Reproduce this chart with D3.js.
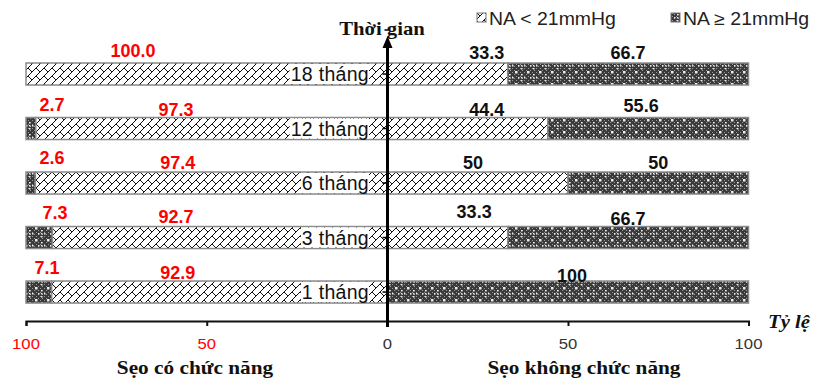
<!DOCTYPE html>
<html><head><meta charset="utf-8">
<script src="https://cdn.jsdelivr.net/npm/d3@7"></script>
<style>body{margin:0;background:#fff}svg{display:block}</style>
</head><body>
<svg id="c" width="814" height="380"></svg>
<script>
const categories = ["18 tháng","12 tháng","6 tháng","3 tháng","1 tháng"];
const leftLow  = [100.0, 97.3, 97.4, 92.7, 92.9];   // Sẹo có chức năng, NA < 21mmHg
const leftHigh = [0, 2.7, 2.6, 7.3, 7.1];           // Sẹo có chức năng, NA ≥ 21mmHg
const rightLow  = [33.3, 44.4, 50, 33.3, 0];        // Sẹo không chức năng, NA < 21mmHg
const rightHigh = [66.7, 55.6, 50, 66.7, 100];      // Sẹo không chức năng, NA ≥ 21mmHg
const leftLowLbl  = ["100.0","97.3","97.4","92.7","92.9"];
const leftHighLbl = ["","2.7","2.6","7.3","7.1"];
const rightLowLbl  = ["33.3","44.4","50","33.3",""];
const rightHighLbl = ["66.7","55.6","50","66.7","100"];
const tickValues = [0, 50, 100];
const legendLabels = ["NA < 21mmHg", "NA ≥ 21mmHg"];

const svg = d3.select("#c");
const cx = 387.5;
const xL = d3.scaleLinear().domain([0,100]).range([cx, 26]);
const xR = d3.scaleLinear().domain([0,100]).range([cx, 748.5]);
const y = d3.scaleBand().domain(categories).range([35.75, 330.3]).paddingInner(0.596).paddingOuter(0.5);

// manual label placement (layout tweaks, as in the original Excel chart)
const placeL = [{hx:null,hy:0,lx:70.4,ly:-6.5},{hx:92.8,hy:-6.5,lx:58.5,ly:-1.5},{hx:92.8,hy:-8,lx:58,ly:-3},
                {hx:92,hy:-7.5,lx:58.5,ly:-3.5},{hx:94.2,hy:-7.5,lx:58,ly:-2.5}];
const placeR = [{lx:27.5,ly:-4.5,dx:0,hy:-4.5},{lx:27.5,ly:-1.5,dx:-7,hy:-5.5},{lx:23.7,ly:-2.7,dx:0,hy:-2.7},
                {lx:24,ly:-9,dx:0,hy:-2},{lx:0,ly:0,dx:4,hy:1}];

// patterns
const defs = svg.append("defs");
const ph = defs.append("pattern").attr("id","hatch").attr("patternUnits","userSpaceOnUse")
  .attr("width",8).attr("height",8);
ph.append("rect").attr("width",8).attr("height",8).attr("fill","#fff");
ph.append("path").attr("d","M-1,9 L9,-1 M-1,1 L1,-1 M7,9 L9,7 M4,4 L8,8")
  .attr("stroke","#111").attr("stroke-width",1).attr("fill","none");
const pd = defs.append("pattern").attr("id","dark").attr("patternUnits","userSpaceOnUse")
  .attr("width",12).attr("height",12);
pd.append("rect").attr("width",12).attr("height",12).attr("fill","#3a3a3a");
for (let i=0;i<12;i+=2) for (let j=0;j<12;j+=2) if (((i+j)/2)%2===0)
  pd.append("rect").attr("x",i).attr("y",j).attr("width",1).attr("height",1).attr("fill","#9a9a9a");
[[5,2],[5,8],[2,5],[8,5],[5,5],[11,11],[11,0],[0,11],[0,0]].forEach(([a,b])=>
  pd.append("rect").attr("x",a).attr("y",b).attr("width",1.5).attr("height",1.5).attr("fill","#eee"));

const bh = y.bandwidth();
const rows = categories.map((c,i)=>({c,i}));
const g = svg.append("g");

// left bars
g.selectAll(".lh").data(rows.filter(d=>leftHigh[d.i]>0)).join("rect")
  .attr("x", d=>xL(100)).attr("y", d=>y(d.c))
  .attr("width", d=>xL(100-leftHigh[d.i]) - xL(100)).attr("height", bh)
  .attr("fill","url(#dark)").attr("stroke","#8a8a8a").attr("stroke-width",1.5);
g.selectAll(".ll").data(rows).join("rect")
  .attr("x", d=>xL(leftLow[d.i])).attr("y", d=>y(d.c))
  .attr("width", d=>xL(0) - xL(leftLow[d.i])).attr("height", bh)
  .attr("fill","url(#hatch)").attr("stroke","#8a8a8a").attr("stroke-width",1.5);
// right bars
g.selectAll(".rl").data(rows.filter(d=>rightLow[d.i]>0)).join("rect")
  .attr("x", xR(0)).attr("y", d=>y(d.c))
  .attr("width", d=>xR(rightLow[d.i]) - xR(0)).attr("height", bh)
  .attr("fill","url(#hatch)").attr("stroke","#8a8a8a").attr("stroke-width",1.5);
g.selectAll(".rh").data(rows).join("rect")
  .attr("x", d=>xR(rightLow[d.i])).attr("y", d=>y(d.c))
  .attr("width", d=>xR(100) - xR(rightLow[d.i])).attr("height", bh)
  .attr("fill","url(#dark)").attr("stroke","#8a8a8a").attr("stroke-width",1.5);

// category labels with white box
const cl = g.selectAll(".cl").data(rows).join("g");
cl.append("text")
  .attr("x", 369).attr("y", d=>y(d.c)+bh/2+7)
  .attr("text-anchor","end").attr("font-family","Liberation Sans, Arial")
  .attr("font-size",19.5).attr("letter-spacing",0.3).attr("fill","#111").text(d=>d.c)
  .each(function(d){
    const bb = this.getBBox();
    d3.select(this.parentNode).insert("rect","text")
      .attr("x", bb.x-1).attr("y", y(d.c)+1).attr("width", bb.width+1).attr("height", bh-2)
      .attr("fill","#fff");
  });

// data labels
const lblFont = "Liberation Sans, Arial";
function lbl(x, yy, t, col){
  svg.append("text").attr("x",x).attr("y",yy).attr("text-anchor","middle")
    .attr("font-family",lblFont).attr("font-weight","bold").attr("font-size",18)
    .attr("fill",col).text(t);
}
rows.forEach(d=>{
  const top = y(d.c), pl = placeL[d.i], pr = placeR[d.i];
  if (leftHighLbl[d.i]) lbl(xL(pl.hx), top+pl.hy, leftHighLbl[d.i], "#ff0000");
  lbl(xL(pl.lx), top+pl.ly, leftLowLbl[d.i], "#ff0000");
  if (rightLowLbl[d.i]) lbl(xR(pr.lx), top+pr.ly, rightLowLbl[d.i], "#111");
  const mid = (xR(rightLow[d.i]) + xR(100))/2;
  lbl(mid+pr.dx, top+pr.hy, rightHighLbl[d.i], "#111");
});

// horizontal axis
const axY = 321;
const axL = d3.axisBottom(xL).tickValues(tickValues).tickSize(5).tickFormat("");
const axR = d3.axisBottom(xR).tickValues(tickValues).tickSize(5).tickFormat("");
const gl = svg.append("g").attr("transform",`translate(0,${axY})`).call(axL);
const gr = svg.append("g").attr("transform",`translate(0,${axY})`).call(axR);
[gl,gr].forEach(a=>{a.selectAll("path,line").attr("stroke","#111").attr("stroke-width",2);});
function tickText(x, v, col){
  svg.append("text").attr("transform",`translate(${x},349) scale(1.15,1)`).attr("text-anchor","middle")
    .attr("font-family",lblFont).attr("font-size",14.5).attr("fill",col).text(v);
}
tickValues.forEach(v=>{
  tickText(xL(v), v, v===0 ? "#333" : "#ff0000");
  if (v>0) tickText(xR(v), v, "#333");
});

// vertical axis with arrow
svg.append("line").attr("x1",cx).attr("x2",cx).attr("y1",46).attr("y2",327)
  .attr("stroke","#000").attr("stroke-width",3);
svg.append("path").attr("d",`M${cx},36 L${cx-5},48 L${cx+5},48 Z`).attr("fill","#000");
svg.append("line").attr("x1",cx-3).attr("x2",cx+1).attr("y1",30).attr("y2",30).attr("stroke","#000").attr("stroke-width",1.5);
rows.forEach(d=>{
  svg.append("line").attr("x1",cx-5).attr("x2",cx).attr("y1",y(d.c)+bh/2).attr("y2",y(d.c)+bh/2)
    .attr("stroke","#000").attr("stroke-width",1.5);
});

// titles
const serif = "Liberation Serif, Times New Roman";
function serifText(x, yy, t, size, anchor, italic){
  svg.append("text").attr("transform",`translate(${x},${yy}) scale(1.15,1)`).attr("text-anchor",anchor)
    .attr("font-family",serif).attr("font-weight","bold").attr("font-style",italic?"italic":"normal")
    .attr("font-size",size).attr("fill","#111").text(t);
}
serifText(382, 35, "Thời gian", 18, "middle", false);
serifText(768, 328, "Tỷ lệ", 18, "start", true);
serifText(195, 374, "Sẹo có chức năng", 18.5, "middle", false);
serifText(584, 374, "Sẹo không chức năng", 18.5, "middle", false);

// legend
const lg = [{p:"hatch",x:477},{p:"dark",x:671}];
lg.forEach((d,i)=>{
  svg.append("rect").attr("x",d.x).attr("y",13).attr("width",9).attr("height",9)
    .attr("fill",`url(#${d.p})`).attr("stroke","#777").attr("stroke-width",1);
  svg.append("text").attr("transform",`translate(${d.x+12},25) scale(1.08,1)`).attr("font-family",lblFont)
    .attr("font-size",18).attr("fill","#222").text(legendLabels[i]);
});
</script>
</body></html>
